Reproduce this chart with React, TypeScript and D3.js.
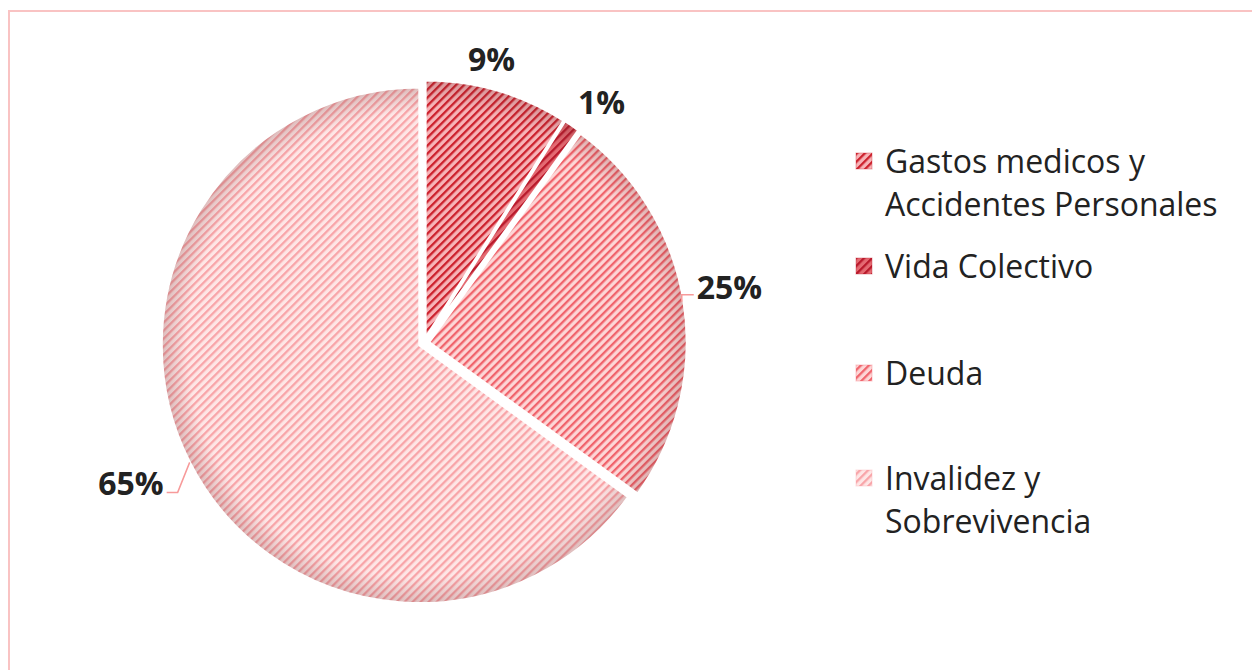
import React from "react";
import * as d3 from "d3";

const categories = [
  ["Gastos medicos y", "Accidentes Personales"],
  ["Vida Colectivo"],
  ["Deuda"],
  ["Invalidez y", "Sobrevivencia"],
];
const values = [9, 1, 25, 65];
const labels = ["9%", "1%", "25%", "65%"];

const fills = [
  { bg: "#f7b4b8", fg: "#cc1f2b" },
  { bg: "#e46a72", fg: "#b8182a" },
  { bg: "#fdd6d6", fg: "#f0646c" },
  { bg: "#fee6e6", fg: "#f8a4a8" },
];

const W = 1252;
const H = 670;
const cx = 424;
const cy = 343;
const R = 258;
const explode = 5;

// label placement tweaks (style config, not data)
const labelCfg = [
  { r: 292, dx: -14, dy: -4, leader: false },
  { r: 298, dx: 10, dy: 5, leader: false },
  { r: 0, dx: 0, dy: 0, leader: true, side: 1 },
  { r: 0, dx: 0, dy: 0, leader: true, side: -1 },
];

const labelFont = "'Open Sans', 'Noto Sans', sans-serif";

export default function App() {
  const pie = d3.pie<number>().sort(null).value((d) => d)(values);
  const arc = d3.arc<d3.PieArcDatum<number>>().innerRadius(0).outerRadius(R);

  const legendY = [173, 278, 385, 490];
  const legendLine = 43;

  return (
    <svg
      width={W}
      height={H}
      style={{ position: "absolute", left: 0, top: 0, background: "#fff" }}
    >
      <defs>
        {fills.map((f, i) => (
          <pattern
            key={i}
            id={`pat${i}`}
            patternUnits="userSpaceOnUse"
            width={5.66}
            height={5.66}
            patternTransform="rotate(45)"
          >
            <rect width={5.66} height={5.66} fill={f.bg} />
            <rect width={2.3} height={5.66} fill={f.fg} />
          </pattern>
        ))}
        <radialGradient id="edgeShade" cx="0.5" cy="0.5" r="0.5">
          <stop offset="0.9" stopColor="#6a2a2a" stopOpacity={0} />
          <stop offset="1" stopColor="#6a2a2a" stopOpacity={0.22} />
        </radialGradient>
      </defs>

      {/* chart border */}
      <line x1={8} y1={11} x2={W} y2={11} stroke="#f9c3c3" strokeWidth={2} />
      <line x1={9} y1={10} x2={9} y2={H} stroke="#f9c3c3" strokeWidth={2} />

      {pie.map((p, i) => {
        const mid = (p.startAngle + p.endAngle) / 2;
        const ox = cx + explode * Math.sin(mid);
        const oy = cy - explode * Math.cos(mid);
        const d = arc(p) || "";
        return (
          <g key={i} transform={`translate(${ox},${oy})`}>
            <path d={d} fill={`url(#pat${i})`} />
            <clipPath id={`clip${i}`}>
              <path d={d} />
            </clipPath>
            <circle r={R} fill="url(#edgeShade)" clipPath={`url(#clip${i})`} />
            <path d={d} fill="none" stroke="#fff" strokeWidth={2.5} strokeLinejoin="round" />
          </g>
        );
      })}

      {pie.map((p, i) => {
        const mid = (p.startAngle + p.endAngle) / 2;
        const ox = cx + explode * Math.sin(mid);
        const oy = cy - explode * Math.cos(mid);
        const cfg = labelCfg[i];
        const style = {
          fontFamily: labelFont,
          fontWeight: 700 as const,
          fontSize: 32,
          fill: "#222",
        };
        if (!cfg.leader) {
          const lx = cx + cfg.r * Math.sin(mid) + cfg.dx;
          const ly = cy - cfg.r * Math.cos(mid) + cfg.dy;
          return (
            <text key={i} x={lx} y={ly} textAnchor="middle" dominantBaseline="central" style={style}>
              {labels[i]}
            </text>
          );
        }
        const ax = ox + R * Math.sin(mid);
        const ay = oy - R * Math.cos(mid);
        let pts: [number, number][];
        let tx: number, ty: number, anchor: "start" | "end";
        if (cfg.side === 1) {
          const by = ay - 7;
          pts = [[ax - 2, ay], [ax - 2, by], [ax + 10, by]];
          tx = ax + 13;
          ty = by - 8;
          anchor = "start";
        } else {
          const by = ay + 30;
          pts = [[ax, ay], [ax - 12, by], [ax - 23, by]];
          tx = ax - 26;
          ty = by - 10;
          anchor = "end";
        }
        return (
          <g key={i}>
            <polyline
              points={pts.map((q) => q.join(",")).join(" ")}
              fill="none"
              stroke="#f79a9a"
              strokeWidth={1.5}
            />
            <text x={tx} y={ty} textAnchor={anchor} dominantBaseline="central" style={style}>
              {labels[i]}
            </text>
          </g>
        );
      })}

      {categories.map((lines, i) => (
        <g key={i}>
          <rect
            x={856}
            y={legendY[i] - 20}
            width={16}
            height={16}
            fill={`url(#pat${i})`}
            stroke={fills[i].fg}
            strokeOpacity={0.35}
            strokeWidth={1}
          />
          <text
            x={885}
            y={legendY[i]}
            style={{ fontFamily: labelFont, fontSize: 32, fill: "#222" }}
          >
            {lines.map((t, j) => (
              <tspan key={j} x={885} dy={j === 0 ? 0 : legendLine}>
                {t}
              </tspan>
            ))}
          </text>
        </g>
      ))}
    </svg>
  );
}
